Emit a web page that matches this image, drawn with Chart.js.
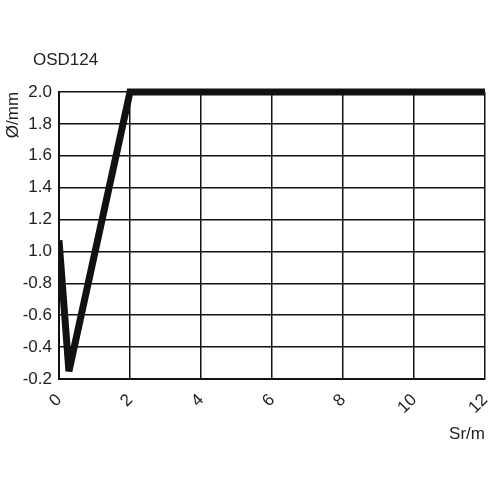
<!DOCTYPE html>
<html>
<head>
<meta charset="utf-8">
<script src="https://cdn.jsdelivr.net/npm/chart.js@4.4.0/dist/chart.umd.min.js"></script>
<style>
  html, body { margin: 0; padding: 0; background: #fff; }
  #wrap { width: 500px; height: 500px; }
</style>
</head>
<body>
<div id="wrap"><canvas id="osd-chart"></canvas></div>
<script>
// chart data
var chartTitle = 'OSD124';
var yTitle = 'Ø/mm';
var xTitle = 'Sr/m';
var yTickLabels = ['-0.2', '-0.4', '-0.6', '-0.8', '1.0', '1.2', '1.4', '1.6', '1.8', '2.0'];
var srValues = [0, 0.28, 2, 12];
var diaPos = [4.35, 0.24, 9, 9]; // position on the y grid (index into yTickLabels)

var textColor = '#222';
var fontFamily = '"Liberation Sans", Arial, sans-serif';

// titles drawn straight on the canvas + lower miter limit for the thick line
var extraText = {
  id: 'extraText',
  beforeDatasetsDraw: function(chart) {
    chart.ctx.miterLimit = 2;
  },
  afterDraw: function(chart) {
    var ctx = chart.ctx;
    ctx.save();
    ctx.fillStyle = textColor;
    ctx.font = '17px ' + fontFamily;
    ctx.textBaseline = 'middle';
    ctx.textAlign = 'left';
    ctx.fillText(chartTitle, 33, 60);
    ctx.translate(13, 115);
    ctx.rotate(-Math.PI / 2);
    ctx.textAlign = 'center';
    ctx.fillText(yTitle, 0, 0);
    ctx.restore();
  }
};

var ctx = document.getElementById('osd-chart').getContext('2d');
new Chart(ctx, {
  type: 'line',
  data: {
    datasets: [{
      data: srValues.map(function(v, i) { return {x: v, y: diaPos[i]}; }),
      borderColor: '#111',
      borderWidth: 7,
      borderJoinStyle: 'miter',
      pointRadius: 0,
      tension: 0,
      fill: false,
      clip: {left: 0, top: 6, right: 6, bottom: 6}
    }]
  },
  options: {
    responsive: true,
    maintainAspectRatio: false,
    animation: false,
    layout: {padding: {left: 0, right: 15, top: 92, bottom: 50}},
    plugins: {
      legend: {display: false},
      tooltip: {enabled: false}
    },
    scales: {
      x: {
        type: 'linear',
        min: 0,
        max: 12,
        afterFit: function(scale) {
          scale.height = 71;
          scale.paddingLeft = 0;
          scale.paddingRight = 0;
        },
        grid: {color: '#111', lineWidth: 1.5, drawTicks: false},
        border: {color: '#111', width: 2},
        ticks: {
          stepSize: 2,
          minRotation: 45,
          maxRotation: 45,
          padding: 11,
          color: textColor,
          font: {family: fontFamily, size: 17}
        },
        title: {
          display: true,
          text: xTitle,
          align: 'end',
          color: textColor,
          padding: {top: 4, bottom: 5},
          font: {family: fontFamily, size: 17}
        }
      },
      y: {
        min: 0,
        max: 9,
        afterFit: function(scale) { scale.width = 59; },
        grid: {color: '#111', lineWidth: 1.5, drawTicks: false},
        border: {color: '#111', width: 2},
        ticks: {
          stepSize: 1,
          padding: 7,
          color: textColor,
          font: {family: fontFamily, size: 17},
          callback: function(val) {
            return yTickLabels[val];
          }
        }
      }
    }
  },
  plugins: [extraText]
});
</script>
</body>
</html>
